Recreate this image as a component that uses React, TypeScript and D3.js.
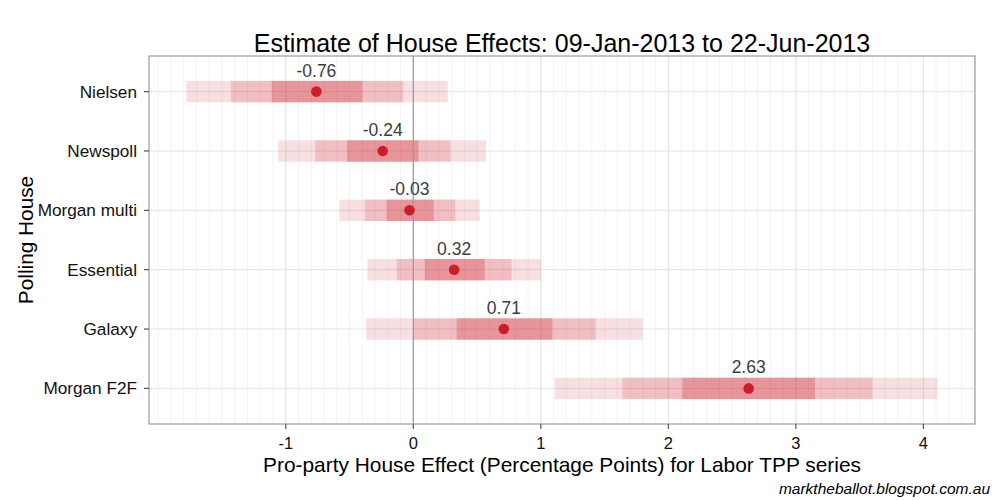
import React from 'react';
import * as d3 from 'd3';

const houses = ['Nielsen', 'Newspoll', 'Morgan multi', 'Essential', 'Galaxy', 'Morgan F2F'];
const effects = [-0.76, -0.24, -0.03, 0.32, 0.71, 2.63];
const outerLow = [-1.78, -1.06, -0.58, -0.36, -0.37, 1.11];
const outerHigh = [0.27, 0.57, 0.52, 1.0, 1.8, 4.11];
const midLow = [-1.43, -0.77, -0.38, -0.13, 0.0, 1.64];
const midHigh = [-0.08, 0.29, 0.33, 0.77, 1.43, 3.6];
const innerLow = [-1.11, -0.52, -0.21, 0.09, 0.34, 2.11];
const innerHigh = [-0.4, 0.04, 0.16, 0.56, 1.09, 3.15];
const xTicks = [-1, 0, 1, 2, 3, 4];
const minorStep = 0.1;

const W = 1000;
const H = 500;
const margin = { top: 56, right: 25, bottom: 76, left: 149 };
const font = '"Liberation Sans", Arial, Helvetica, sans-serif';

const App: React.FC = () => {
    const x = d3.scaleLinear().domain([-2.073, 4.405]).range([margin.left, W - margin.right]);
    const y = d3.scalePoint<string>().domain(houses).range([margin.top, H - margin.bottom]).padding(0.6);
    const barH = y.step() * 0.36;

    const [x0, x1] = x.domain();
    const minor = d3.range(Math.ceil(x0 / minorStep), Math.floor(x1 / minorStep) + 1).map(i => i * minorStep);

    const bands = [
        { lo: outerLow, hi: outerHigh, op: 0.14 },
        { lo: midLow, hi: midHigh, op: 0.165 },
        { lo: innerLow, hi: innerHigh, op: 0.26 },
    ];

    const top = margin.top;
    const bottom = H - margin.bottom;
    const left = margin.left;
    const right = W - margin.right;

    return (
        <svg width={W} height={H} style={{ position: 'absolute', left: 0, top: 0, fontFamily: font }}>
            <rect x={0} y={0} width={W} height={H} fill="#fff" />
            {minor.map(v => (
                <line key={'m' + v} x1={x(v)} x2={x(v)} y1={top} y2={bottom} stroke="#f3f3f3" strokeWidth={1} />
            ))}
            {xTicks.map(v => (
                <line key={'g' + v} x1={x(v)} x2={x(v)} y1={top} y2={bottom} stroke="#e3e3e3" strokeWidth={1} />
            ))}
            {houses.map(h => (
                <line key={'h' + h} x1={left} x2={right} y1={y(h)} y2={y(h)} stroke="#e3e3e3" strokeWidth={1} />
            ))}
            {bands.map((b, bi) => (
                <g key={'b' + bi}>
                    {houses.map((h, i) => (
                        <rect key={h} x={x(b.lo[i])} width={x(b.hi[i]) - x(b.lo[i])}
                            y={(y(h) as number) - barH / 2} height={barH}
                            fill="#cc1e28" fillOpacity={b.op} />
                    ))}
                </g>
            ))}
            <line x1={x(0)} x2={x(0)} y1={top} y2={bottom} stroke="#9a9a9a" strokeWidth={1.2} />
            {houses.map((h, i) => (
                <g key={'p' + h}>
                    <circle cx={x(effects[i])} cy={y(h)} r={5.3} fill="#cc1e28" />
                    <text x={x(effects[i])} y={(y(h) as number) - 15} textAnchor="middle"
                        fontSize={17.5} fill="#3d3d3d">{effects[i].toFixed(2)}</text>
                </g>
            ))}
            <rect x={left} y={top} width={right - left} height={bottom - top} fill="none" stroke="#8a8a8a" strokeWidth={1} />
            {xTicks.map(v => (
                <g key={'xt' + v}>
                    <line x1={x(v)} x2={x(v)} y1={bottom} y2={bottom + 5} stroke="#555" strokeWidth={1.2} />
                    <text x={x(v)} y={bottom + 25} textAnchor="middle" fontSize={16.5} fill="#111">{v}</text>
                </g>
            ))}
            {houses.map(h => (
                <g key={'yt' + h}>
                    <line x1={left - 5} x2={left} y1={y(h)} y2={y(h)} stroke="#555" strokeWidth={1.2} />
                    <text x={left - 12} y={(y(h) as number) + 6} textAnchor="end" fontSize={17.2} fill="#111">{h}</text>
                </g>
            ))}
            <text x={(left + right) / 2} y={52} textAnchor="middle" fontSize={25} fill="#000">
                Estimate of House Effects: 09-Jan-2013 to 22-Jun-2013
            </text>
            <text x={(left + right) / 2} y={472} textAnchor="middle" fontSize={20.9} fill="#000">
                Pro-party House Effect (Percentage Points) for Labor TPP series
            </text>
            <text transform={`translate(33,${(top + bottom) / 2}) rotate(-90)`} textAnchor="middle" fontSize={20.8} fill="#000">
                Polling House
            </text>
            <text x={990} y={494} textAnchor="end" fontSize={15.5} fontStyle="italic" fill="#000">
                marktheballot.blogspot.com.au
            </text>
        </svg>
    );
};

export default App;
